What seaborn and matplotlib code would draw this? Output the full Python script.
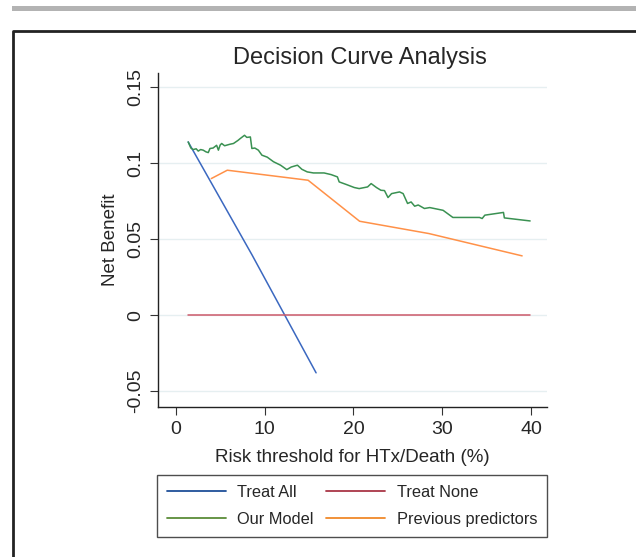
import numpy as np
import pandas as pd
import matplotlib
matplotlib.use("Agg")
import matplotlib.pyplot as plt
import seaborn as sns
from matplotlib.lines import Line2D
from matplotlib.patches import Rectangle

# ---- data ----
treat_all_x = [1.4, 8.6, 15.8]
treat_all_y = [0.114, 0.0395, -0.038]

treat_none_x = [1.4, 39.9]
treat_none_y = [0.0, 0.0]

model_x = [1.4, 1.7, 1.96, 2.3, 2.53, 2.8, 3.09, 3.4, 3.66, 3.85, 4.2, 4.6, 4.8, 5.0, 5.17, 5.5,
           6.1, 6.5, 7.0, 7.25, 7.74, 8.0, 8.4, 8.57, 8.9, 9.3, 9.7, 10.3, 11.0, 11.8, 12.5,
           13.0, 13.7, 14.2, 14.8, 15.5, 16.7, 17.5, 18.2, 18.4, 19.2, 20.1, 20.65, 21.6, 22.0,
           22.6, 23.1, 23.5, 23.9, 24.3, 25.2, 25.6, 26.1, 26.5, 26.9, 27.3, 28.0, 28.6, 30.1,
           31.2, 34.2, 34.5, 34.8, 36.9, 37.0, 39.9]
model_y = [0.114, 0.110, 0.109, 0.1095, 0.108, 0.109, 0.1086, 0.1075, 0.107, 0.1097, 0.110,
           0.1118, 0.1086, 0.112, 0.113, 0.1115, 0.1125, 0.113, 0.115, 0.1162, 0.1184, 0.117,
           0.1173, 0.1097, 0.110, 0.1086, 0.1053, 0.104, 0.101, 0.0987, 0.0958, 0.0975, 0.0987,
           0.096, 0.0943, 0.0936, 0.0936, 0.0925, 0.091, 0.0877, 0.086, 0.084, 0.0833, 0.0844,
           0.0866, 0.084, 0.0822, 0.082, 0.0774, 0.080, 0.0811, 0.080, 0.0735, 0.0745, 0.0717,
           0.0725, 0.0702, 0.0708, 0.069, 0.0643, 0.0643, 0.0636, 0.0658, 0.0676, 0.064, 0.062]

prev_x = [4.0, 5.8, 14.9, 20.7, 28.5, 39.0]
prev_y = [0.0899, 0.0954, 0.0888, 0.0618, 0.0537, 0.039]

series_names = ["Treat All", "Treat None", "Our Model", "Previous predictors"]
colors = ["#3b68c0", "#cc5a6a", "#3a9152", "#ff9148"]
legend_colors = ["#1f4f98", "#a93646", "#5b8c38", "#f0892a"]

xticks = [0, 10, 20, 30, 40]
yticks = [-0.05, 0, 0.05, 0.1, 0.15]
ytick_labels = ["-0.05", "0", "0.05", "0.1", "0.15"]

frames = []
for name, xs, ys in zip(series_names,
                        [treat_all_x, treat_none_x, model_x, prev_x],
                        [treat_all_y, treat_none_y, model_y, prev_y]):
    frames.append(pd.DataFrame({"x": xs, "y": ys, "series": name}))
df = pd.concat(frames, ignore_index=True)

sns.set_theme(style="white")
plt.rcParams["font.family"] = ["Liberation Sans", "DejaVu Sans"]

W, H = 636, 557
fig = plt.figure(figsize=(W / 100, H / 100), dpi=100)
fig.patch.set_facecolor("white")

# decorations: gray band and black frame
fig.patches.append(Rectangle((12 / W, 1 - 11 / H), 1 - 12 / W, 5 / H, transform=fig.transFigure,
                             facecolor="#b3b3b3", edgecolor="none"))
fig.lines.append(Line2D([13 / W, 13 / W, 1.0], [0.0, 1 - 31 / H, 1 - 31 / H],
                        transform=fig.transFigure, color="#222222", linewidth=2.0))

ax = fig.add_axes([158 / W, 1 - 406.7 / H, (547 - 158) / W, (406.7 - 72.7) / H])

# grid
for yv in yticks:
    ax.axhline(yv, color="#e6eff1", linewidth=1.0, zorder=0)

sns.lineplot(data=df, x="x", y="y", hue="series", palette=dict(zip(series_names, colors)),
             hue_order=series_names, estimator=None, sort=False, linewidth=1.1,
             legend=False, ax=ax)

ax.set_xlim(-2.0, 41.8)
ax.set_ylim(-0.0603, 0.1596)
ax.set_xticks(xticks)
ax.set_xticklabels([str(v) for v in xticks], fontsize=14)
ax.set_yticks(yticks)
ax.set_yticklabels(ytick_labels, fontsize=14, rotation=90, va="center")
ax.tick_params(axis="both", which="both", direction="out", length=6, width=0.8,
               color="#333333", left=True, bottom=True, pad=4)
for s in ["top", "right"]:
    ax.spines[s].set_visible(False)
for s in ["left", "bottom"]:
    ax.spines[s].set_color("#222222")
    ax.spines[s].set_linewidth(1.0)

ax.set_xlabel("Risk threshold for HTx/Death (%)", fontsize=13.5, labelpad=8)
ax.set_ylabel("Net Benefit", fontsize=13.5, labelpad=6)

fig.text(360 / W, 1 - 58 / H, "Decision Curve Analysis", fontsize=17, ha="center", va="center")

# legend filled row-wise: Treat All | Treat None / Our Model | Previous predictors
order = [0, 2, 1, 3]
handles = [Line2D([0], [0], color=legend_colors[i], linewidth=1.3) for i in order]
labels = [series_names[i] for i in order]
leg = fig.legend(handles, labels, ncol=2, loc="lower left",
                 bbox_to_anchor=(157 / W, 1 - 537 / H, (547 - 157) / W, (537 - 476) / H),
                 mode="expand", borderaxespad=0, fancybox=False, frameon=True,
                 fontsize=11.8, handlelength=3.6, handletextpad=0.7, labelspacing=0.75,
                 columnspacing=2.2, borderpad=0.6)
leg.get_frame().set_edgecolor("#222222")
leg.get_frame().set_linewidth(1.0)

fig.savefig("out.png", dpi=100)
